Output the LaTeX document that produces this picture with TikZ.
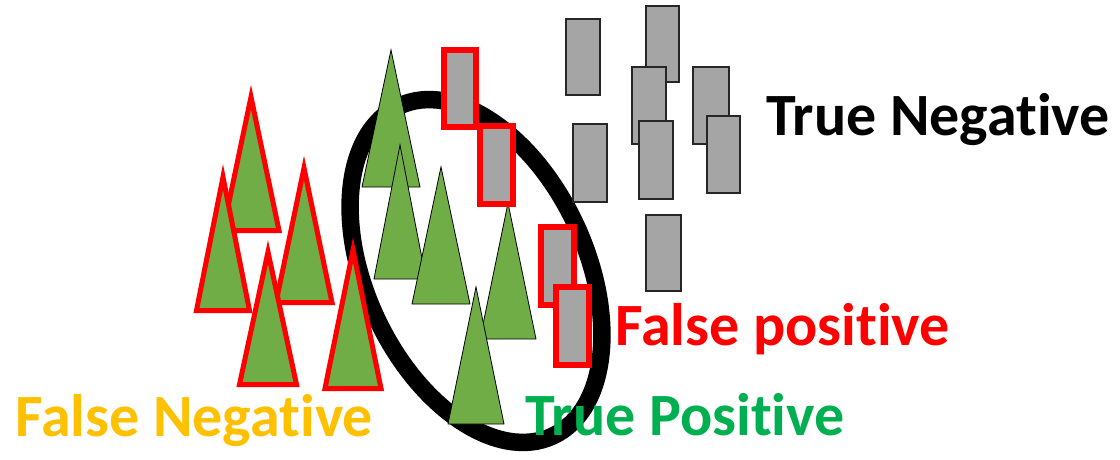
\documentclass[tikz,border=0pt]{standalone}
\usepackage{fontspec}
\setmainfont{Carlito}[Ligatures=NoCommon]
\definecolor{treegreen}{HTML}{70AD47}
\definecolor{boxgray}{HTML}{A5A5A5}
\definecolor{fnorange}{HTML}{FFC000}
\definecolor{tpgreen}{HTML}{00B050}
\tikzset{
    tree/.style={draw=black, fill=treegreen, line width=0.8pt, line join=miter},
    redtree/.style={draw=red, fill=treegreen, line width=5pt, line join=miter},
    graybox/.style={draw=black!85, fill=boxgray, line width=1.5pt},
    redbox/.style={draw=red, fill=boxgray, line width=5.5pt},
    ring/.style={draw=black, line width=17.5pt},
    word/.style={font=\fontsize{60}{66}\selectfont\bfseries, inner sep=0pt, anchor=base west}
}
\begin{document}
\begin{tikzpicture}[x=1pt, y=1pt]
  \useasboundingbox (0,0) rectangle (1120,-459);

  % the selection
  \draw[ring, rotate around={-65:(476,-271)}] (476,-271) ellipse [x radius=182pt, y radius=110pt];

  % missed trees
  \foreach \x/\y/\w/\h in {251/97/28/133.5, 223/177/26.5/133.5, 304/168/28/134.5,
                           268/252/28.5/132.5, 353/250/28/138.5}
    \draw[redtree] (\x,-\y) -- ++(-\w,-\h) -- ++(2*\w,0) -- cycle;

  % found trees
  \foreach \x/\y/\w/\h in {391/50/29/137, 400/145/26/134, 441/167/29/137,
                           508/203/28/136, 476/287/28/137}
    \draw[tree] (\x,-\y) -- ++(-\w,-\h) -- ++(2*\w,0) -- cycle;

  % wrongly selected boxes
  \foreach \xa/\ya/\xb/\yb in {444/50/476/127, 480/126/513/204,
                               541/227/574/305, 556/287/589/365}
    \draw[redbox] (\xa,-\ya) rectangle (\xb,-\yb);

  % other boxes
  \foreach \xa/\ya/\xb/\yb in {566/19/600/95, 646/6/679/82, 632/67/666/144,
                               693/67/729/144, 573/124/607/202, 639/121/673/199,
                               707/116/740/193, 646/215/681/291}
    \draw[graybox] (\xa,-\ya) rectangle (\xb,-\yb);

  \node[word, text=black]     (tn) at (766,-135) {True Negative};
  \node[word, text=red]       (fp) at (615,-345) {False positive};
  \node[word, text=tpgreen]   (tp) at (525,-435) {True Positive};
  \node[word, text=fnorange]  (fn) at (15,-436)  {False Negative};
\end{tikzpicture}
\end{document}
